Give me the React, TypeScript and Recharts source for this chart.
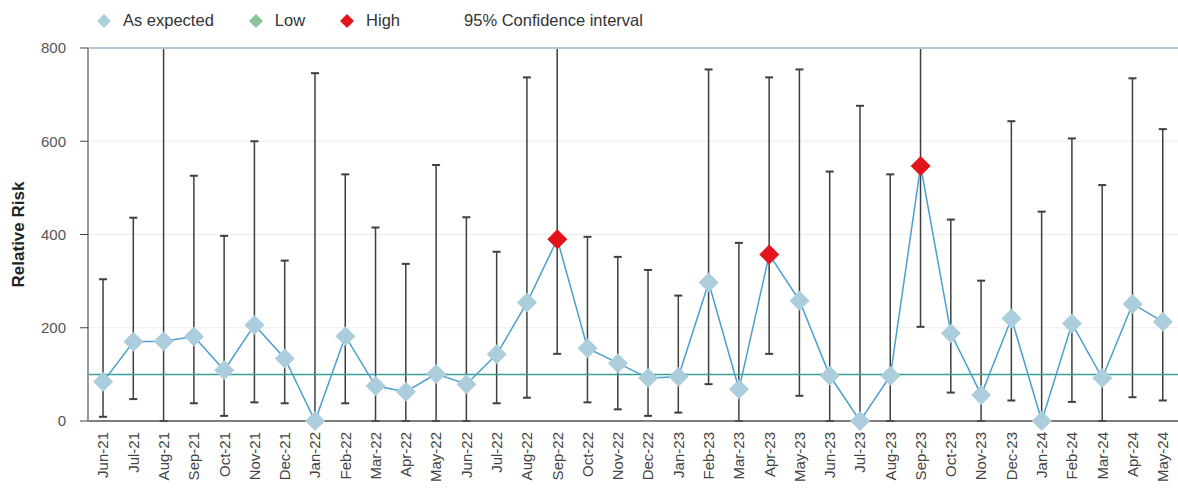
import React from "react";
import {
  ComposedChart,
  Bar,
  Line,
  XAxis,
  YAxis,
  CartesianGrid,
  ReferenceLine,
  Legend,
} from "recharts";

const MONTHS = [
  "Jun-21", "Jul-21", "Aug-21", "Sep-21", "Oct-21", "Nov-21", "Dec-21",
  "Jan-22", "Feb-22", "Mar-22", "Apr-22", "May-22", "Jun-22", "Jul-22",
  "Aug-22", "Sep-22", "Oct-22", "Nov-22", "Dec-22", "Jan-23", "Feb-23",
  "Mar-23", "Apr-23", "May-23", "Jun-23", "Jul-23", "Aug-23", "Sep-23",
  "Oct-23", "Nov-23", "Dec-23", "Jan-24", "Feb-24", "Mar-24", "Apr-24",
  "May-24",
];

const RELATIVE_RISK = [
  84, 170, 171, 181, 109, 206, 134, 0, 182, 75, 63, 101, 79, 143, 254, 390,
  156, 124, 92, 95, 297, 68, 357, 258, 97, 0, 97, 547, 188, 56, 220, 0, 209,
  92, 251, 213,
];

const CI_LOWER = [
  9, 47, 0, 38, 11, 40, 38, 0, 38, 0, 0, 0, 0, 38, 50, 144, 40, 25, 11, 18,
  79, 0, 144, 54, 0, 0, 0, 202, 61, 0, 44, 0, 41, 0, 51, 44,
];

// upper bounds past the axis maximum are capped at 800
const CI_UPPER = [
  304, 436, 800, 526, 397, 600, 344, 746, 529, 415, 337, 549, 437, 363, 737,
  800, 395, 352, 324, 269, 754, 382, 737, 754, 535, 676, 529, 800, 432, 301,
  643, 449, 606, 506, 735, 626,
];

const HIGH_MONTHS = ["Sep-22", "Apr-23", "Sep-23"];
const LOW_MONTHS: string[] = [];

const Y_TICKS = [0, 200, 400, 600, 800];
const Y_MAX = 800;
const BASELINE = 100;

const COLORS = {
  expected: "#abcddc",
  low: "#8cc49a",
  high: "#e3141c",
  line: "#4a9fcf",
  whisker: "#3f3f3f",
  baseline: "#3a9f95",
};

const FONT = "'Liberation Sans', Arial, sans-serif";

type Row = {
  month: string;
  rr: number;
  ci: [number, number];
  status: "expected" | "low" | "high";
};

const data: Row[] = MONTHS.map((month, i) => ({
  month,
  rr: RELATIVE_RISK[i],
  ci: [CI_LOWER[i], CI_UPPER[i]],
  status: HIGH_MONTHS.includes(month)
    ? "high"
    : LOW_MONTHS.includes(month)
    ? "low"
    : "expected",
}));

const Whisker = (props: any) => {
  const { x, y, width, height, payload } = props;
  if (x == null || y == null) return null;
  const cx = x + width / 2;
  const top = y;
  const bottom = y + height;
  const capped = payload.ci[1] >= Y_MAX;
  return (
    <g stroke={COLORS.whisker} strokeWidth={1.5}>
      <line x1={cx} x2={cx} y1={top} y2={bottom} />
      {!capped && <line x1={cx - 4} x2={cx + 4} y1={top} y2={top} strokeWidth={2} />}
      <line x1={cx - 4} x2={cx + 4} y1={bottom} y2={bottom} strokeWidth={2} />
    </g>
  );
};

const Diamond = (props: any) => {
  const { cx, cy, payload, index } = props;
  if (cx == null || cy == null) return null;
  const r = 10;
  const fill = COLORS[payload.status as "expected" | "low" | "high"];
  return (
    <path
      key={`d-${index}`}
      d={`M${cx},${cy - r} L${cx + r},${cy} L${cx},${cy + r} L${cx - r},${cy} Z`}
      fill={fill}
    />
  );
};

const MonthTick = (props: any) => {
  const { x, y, payload } = props;
  return (
    <g transform={`translate(${x},${y})`}>
      <text
        transform="rotate(-90)"
        x={-3}
        dy="0.35em"
        textAnchor="end"
        fill="#444"
        fontSize={15}
        fontFamily={FONT}
      >
        {payload.value}
      </text>
    </g>
  );
};

const LEGEND_ITEMS = [
  { label: "As expected", color: COLORS.expected },
  { label: "Low", color: COLORS.low },
  { label: "High", color: COLORS.high },
  { label: "95% Confidence interval", color: null },
];

const LegendContent = () => (
  <div
    style={{
      display: "flex",
      alignItems: "center",
      gap: 34,
      fontFamily: FONT,
      fontSize: 16.5,
      color: "#333",
      whiteSpace: "nowrap",
    }}
  >
    {LEGEND_ITEMS.map((item) => (
      <div key={item.label} style={{ display: "flex", alignItems: "center" }}>
        <svg
          width={16}
          height={16}
          style={{ marginRight: 11, marginLeft: item.color ? 0 : 3 }}
        >
          {item.color && <path d="M8,1 L15,8 L8,15 L1,8 Z" fill={item.color} />}
        </svg>
        <span>{item.label}</span>
      </div>
    ))}
  </div>
);

export default function App() {
  return (
    <div style={{ position: "absolute", left: 0, top: 0, background: "#fff" }}>
      <ComposedChart
        width={1178}
        height={488}
        data={data}
        margin={{ top: 48, right: 0, bottom: 0, left: 0 }}
        style={{ fontFamily: FONT }}
      >
        <CartesianGrid vertical={false} stroke="#ececec" />
        <XAxis
          dataKey="month"
          interval={0}
          height={67}
          tickLine={false}
          axisLine={{ stroke: "#555", strokeWidth: 1.5 }}
          tick={<MonthTick />}
        />
        <YAxis
          domain={[0, Y_MAX]}
          ticks={Y_TICKS}
          width={88}
          tickSize={8}
          tickMargin={14}
          tickLine={{ stroke: "#444" }}
          axisLine={{ stroke: "#999", strokeWidth: 2 }}
          tick={{ fill: "#555", fontSize: 15, fontFamily: FONT }}
          label={{
            value: "Relative Risk",
            angle: -90,
            position: "center",
            dx: -26,
            fill: "#222",
            fontSize: 17,
            fontWeight: "bold",
            fontFamily: FONT,
          }}
        />
        <ReferenceLine y={Y_MAX} stroke="#b6c8d8" strokeWidth={2} />
        <ReferenceLine y={BASELINE} stroke={COLORS.baseline} strokeWidth={1.5} />
        <Legend
          verticalAlign="middle"
          content={<LegendContent />}
          wrapperStyle={{ top: 11, left: 96, width: "auto" }}
        />
        <Bar
          dataKey="ci"
          shape={<Whisker />}
          isAnimationActive={false}
          legendType="none"
        />
        <Line
          dataKey="rr"
          stroke={COLORS.line}
          strokeWidth={1.5}
          dot={<Diamond />}
          activeDot={false}
          isAnimationActive={false}
          legendType="none"
        />
      </ComposedChart>
    </div>
  );
}
